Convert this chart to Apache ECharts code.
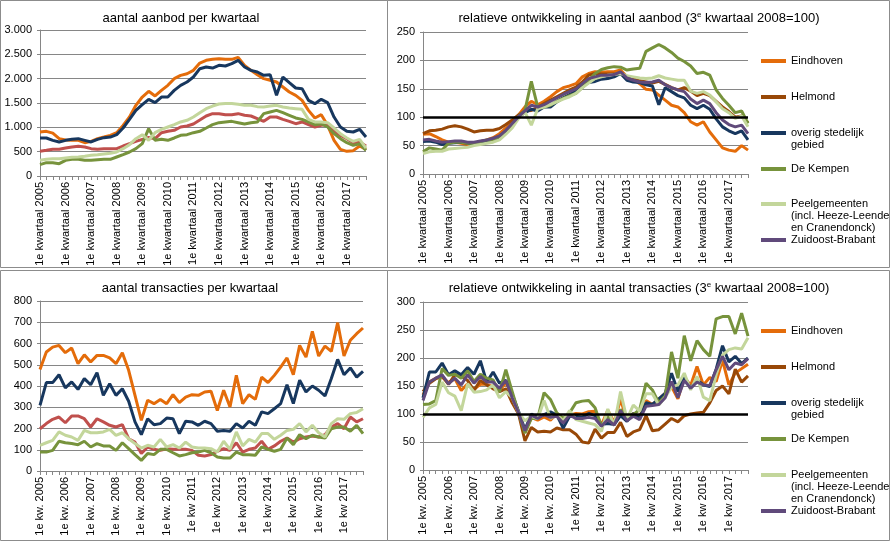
<!DOCTYPE html>
<html><head><meta charset="utf-8">
<script src="https://cdn.jsdelivr.net/npm/echarts@6.0.0/dist/echarts.min.js"></script>
<style>html,body{margin:0;padding:0;background:#fff}#c{width:891px;height:544px}</style>
</head><body><div id="c"></div>
<script>
// ---------- categories ----------
const years = [2005, 2006, 2007, 2008, 2009, 2010, 2011, 2012, 2013, 2014, 2015, 2016, 2017];
const quarterPrefixes = ['1e', '2e', '3e', '4e'];

// ---------- aantal aanbod per kwartaal ----------
const aanbodEindhoven = [904, 918, 880, 767, 740, 733, 733, 685, 712, 767, 800, 835, 890, 1040, 1212, 1452, 1623, 1740, 1644, 1760, 1863, 2000, 2068, 2100, 2171, 2320, 2377, 2397, 2411, 2397, 2397, 2438, 2274, 2171, 2082, 2000, 1966, 1931, 1829, 1726, 1658, 1555, 1349, 1192, 1260, 1041, 733, 548, 507, 521, 616, 548];
const aanbodHelmond = [507, 527, 548, 548, 575, 596, 610, 596, 562, 548, 562, 562, 562, 616, 664, 712, 753, 790, 767, 890, 918, 938, 1007, 1027, 1068, 1150, 1233, 1281, 1281, 1260, 1260, 1281, 1247, 1233, 1178, 1123, 1212, 1212, 1164, 1123, 1075, 1110, 1055, 1007, 1041, 1055, 918, 836, 767, 685, 699, 616];
const aanbodOverig = [781, 781, 733, 699, 733, 753, 767, 733, 699, 753, 788, 800, 850, 986, 1164, 1349, 1466, 1575, 1507, 1623, 1623, 1760, 1863, 1931, 2034, 2205, 2240, 2219, 2274, 2260, 2308, 2377, 2240, 2171, 2137, 2068, 2082, 1658, 2034, 1918, 1808, 1795, 1555, 1486, 1575, 1507, 1212, 1007, 918, 904, 959, 801];
const aanbodKempen = [233, 274, 274, 253, 322, 342, 342, 322, 322, 336, 342, 342, 390, 438, 493, 562, 664, 973, 733, 753, 733, 781, 836, 849, 890, 918, 986, 1055, 1096, 1110, 1123, 1096, 1068, 1096, 1110, 1281, 1315, 1349, 1301, 1247, 1192, 1164, 1110, 1055, 1075, 1007, 870, 767, 685, 630, 664, 527];
const aanbodPeel = [322, 342, 356, 356, 370, 384, 390, 404, 425, 438, 452, 466, 493, 562, 644, 767, 849, 733, 890, 959, 1007, 1055, 1110, 1144, 1212, 1301, 1384, 1438, 1479, 1490, 1490, 1476, 1452, 1452, 1425, 1418, 1438, 1452, 1418, 1397, 1384, 1370, 1164, 1110, 1110, 1096, 986, 870, 781, 712, 753, 575];

// ---------- relatieve ontwikkeling aanbod ----------
const relAanbodEindhoven = [70, 71, 66, 60, 56, 56, 54, 52, 54, 57, 60, 64, 71, 81, 92, 104, 118, 128, 122, 128, 136, 145, 152, 155, 159, 171, 177, 180, 179, 180, 180, 183, 171, 167, 159, 149, 148, 139, 130, 121, 118, 108, 92, 86, 92, 74, 60, 46, 42, 40, 50, 42];
const relAanbodHelmond = [71, 76, 77, 79, 83, 85, 83, 79, 74, 76, 77, 77, 80, 87, 95, 104, 111, 112, 117, 124, 130, 136, 142, 148, 153, 162, 174, 177, 176, 176, 176, 178, 172, 168, 164, 162, 160, 163, 158, 152, 148, 152, 146, 138, 142, 138, 128, 118, 110, 100, 102, 90];
const relAanbodOverig = [57, 58, 56, 52, 54, 55, 56, 54, 52, 55, 57, 58, 63, 73, 86, 101, 108, 114, 111, 118, 118, 127, 134, 140, 146, 155, 161, 163, 167, 168, 171, 177, 165, 162, 161, 157, 155, 122, 152, 145, 138, 134, 121, 115, 121, 114, 97, 83, 76, 71, 76, 60];
const relAanbodKempen = [39, 46, 44, 42, 54, 56, 56, 54, 54, 57, 60, 60, 66, 74, 86, 101, 112, 163, 118, 118, 121, 128, 133, 138, 142, 152, 165, 177, 184, 187, 189, 188, 183, 185, 186, 216, 222, 228, 222, 214, 204, 198, 190, 177, 179, 174, 148, 133, 121, 108, 111, 89];
const relAanbodPeel = [36, 39, 40, 40, 44, 45, 46, 47, 50, 52, 54, 56, 60, 70, 81, 98, 109, 86, 115, 118, 122, 127, 132, 136, 142, 152, 160, 168, 171, 174, 175, 177, 173, 171, 169, 168, 169, 173, 169, 167, 165, 165, 146, 142, 145, 139, 127, 115, 108, 98, 102, 83];
const relAanbodZOB = [60, 61, 58, 56, 57, 58, 58, 56, 56, 58, 60, 63, 67, 77, 89, 101, 111, 121, 118, 122, 128, 134, 140, 145, 150, 159, 168, 171, 174, 174, 175, 180, 169, 165, 162, 161, 162, 165, 157, 152, 148, 145, 132, 124, 130, 124, 108, 95, 87, 83, 86, 71];

// ---------- aantal transacties per kwartaal ----------
const transEindhoven = [478, 560, 583, 591, 557, 579, 505, 547, 513, 544, 544, 532, 505, 557, 474, 356, 238, 333, 317, 337, 317, 359, 322, 348, 359, 356, 372, 375, 285, 380, 301, 450, 317, 359, 337, 442, 416, 450, 489, 532, 453, 591, 536, 657, 541, 588, 563, 698, 541, 615, 646, 673];
const transHelmond = [199, 223, 243, 254, 227, 259, 259, 246, 207, 246, 231, 215, 207, 218, 152, 136, 82, 113, 102, 97, 105, 102, 102, 102, 97, 74, 71, 77, 93, 105, 97, 133, 89, 102, 108, 140, 102, 118, 140, 155, 136, 152, 160, 165, 160, 171, 207, 223, 199, 254, 231, 246];
const transOverig = [309, 416, 416, 453, 391, 419, 384, 435, 406, 463, 356, 411, 356, 387, 328, 231, 171, 246, 218, 223, 249, 246, 176, 234, 231, 215, 234, 223, 187, 191, 187, 223, 202, 234, 215, 278, 270, 293, 317, 406, 317, 427, 372, 400, 380, 353, 435, 525, 453, 485, 442, 469];
const transKempen = [89, 89, 97, 140, 133, 129, 124, 140, 113, 129, 118, 118, 97, 133, 105, 77, 50, 82, 77, 102, 102, 86, 71, 77, 86, 89, 97, 86, 66, 61, 61, 89, 77, 77, 74, 113, 102, 93, 102, 155, 124, 171, 152, 168, 160, 155, 199, 207, 207, 187, 215, 176];
const transPeel = [121, 133, 144, 184, 168, 160, 144, 191, 180, 180, 184, 196, 168, 180, 152, 129, 108, 121, 113, 149, 113, 124, 108, 136, 113, 108, 108, 105, 89, 140, 102, 184, 118, 149, 136, 176, 176, 149, 168, 191, 196, 223, 184, 215, 180, 160, 223, 246, 243, 270, 275, 293];

// ---------- relatieve ontwikkeling transacties ----------
const relTransEindhoven = [134, 157, 164, 166, 156, 163, 142, 154, 144, 153, 153, 149, 142, 156, 133, 100, 67, 94, 89, 95, 89, 101, 90, 98, 101, 100, 104, 105, 80, 107, 85, 126, 89, 101, 95, 124, 117, 126, 137, 149, 127, 166, 151, 185, 152, 165, 158, 196, 152, 173, 181, 189];
const relTransHelmond = [140, 155, 163, 168, 153, 170, 168, 160, 142, 160, 152, 145, 140, 145, 120, 100, 52, 76, 68, 69, 68, 75, 72, 72, 64, 50, 48, 73, 57, 67, 67, 85, 60, 68, 72, 97, 70, 72, 82, 92, 86, 97, 100, 102, 103, 120, 142, 150, 136, 180, 157, 168];
const relTransOverig = [129, 175, 175, 191, 170, 177, 170, 183, 171, 195, 157, 175, 155, 160, 135, 105, 72, 100, 94, 99, 104, 98, 75, 96, 96, 94, 101, 97, 81, 83, 81, 97, 87, 101, 93, 120, 117, 127, 137, 173, 140, 167, 146, 161, 152, 149, 180, 222, 193, 203, 190, 200];
const relTransKempen = [117, 118, 124, 181, 169, 171, 164, 177, 158, 171, 164, 161, 139, 179, 140, 102, 66, 92, 92, 138, 126, 102, 92, 102, 120, 123, 124, 111, 78, 96, 84, 108, 96, 99, 108, 155, 143, 120, 132, 211, 164, 240, 195, 231, 215, 203, 270, 274, 274, 243, 280, 239];
const relTransPeel = [94, 111, 117, 157, 138, 132, 106, 154, 139, 140, 143, 152, 129, 140, 129, 102, 88, 96, 92, 124, 92, 98, 88, 106, 90, 87, 84, 81, 69, 109, 79, 140, 91, 116, 105, 136, 136, 116, 130, 148, 152, 173, 143, 167, 130, 124, 170, 205, 215, 218, 216, 236];
const relTransZOB = [124, 157, 164, 170, 154, 164, 152, 170, 155, 167, 157, 157, 146, 160, 129, 102, 70, 98, 92, 99, 94, 96, 84, 98, 92, 92, 94, 92, 78, 90, 80, 106, 88, 96, 90, 114, 115, 117, 129, 158, 129, 160, 146, 157, 152, 151, 179, 203, 179, 191, 188, 199];

const baseIndex = 100;

// ---------- names / colours ----------
const NAMES = {
  eindhoven: 'Eindhoven',
  helmond: 'Helmond',
  overig: 'overig stedelijk gebied',
  kempen: 'De Kempen',
  peel: 'Peelgemeenten (incl. Heeze-Leende en Cranendonck)',
  zob: 'Zuidoost-Brabant'
};
// legend text, one entry per printed line
const LEGEND_LINES = {
  eindhoven: ['Eindhoven'],
  helmond: ['Helmond'],
  overig: ['overig stedelijk', 'gebied'],
  kempen: ['De Kempen'],
  peel: ['Peelgemeenten', '(incl. Heeze-Leende', 'en Cranendonck)'],
  zob: ['Zuidoost-Brabant']
};
const C = {
  eindhoven: '#E46C0A',
  helmond: '#984807',
  helmondAbs: '#C0504D',
  overig: '#17375E',
  kempen: '#77933C',
  peel: '#C3D69B',
  zob: '#604A7B'
};
const FONT = '"Liberation Sans", Arial, Helvetica, sans-serif';
const GRID_COLOR = '#868686';

const catAanbod = [];
const catTrans = [];
years.forEach(function (y) {
  quarterPrefixes.forEach(function (q) {
    catAanbod.push(q + ' kwartaal ' + y);
    catTrans.push(q + (y <= 2010 ? ' kw. ' : ' kw ') + y);
  });
});

function thousands(v) { return String(v).replace(/\B(?=(\d{3})+(?!\d))/g, '.'); }

const grids = [
  { left: 40, top: 30, width: 326, height: 146 },
  { left: 423, top: 32, width: 325, height: 142 },
  { left: 40, top: 301, width: 323, height: 170 },
  { left: 423, top: 302, width: 325, height: 168 }
].map(function (g) { return Object.assign({ outerBoundsMode: 'none', containLabel: false }, g); });

function xAxis(gi, data) {
  return {
    type: 'category', gridIndex: gi, data: data, boundaryGap: false,
    axisLine: { show: true, lineStyle: { color: GRID_COLOR, width: 1 } },
    axisTick: { show: true, interval: 0, length: 4, lineStyle: { color: GRID_COLOR } },
    axisLabel: { interval: 3, rotate: 90, margin: 6, fontSize: 11, color: '#000', fontFamily: FONT },
    splitLine: { show: false }
  };
}
function yAxis(gi, max, interval, fmt) {
  return {
    type: 'value', gridIndex: gi, min: 0, max: max, interval: interval,
    axisLine: { show: true, lineStyle: { color: GRID_COLOR } },
    axisTick: { show: true, length: 3, lineStyle: { color: GRID_COLOR } },
    axisLabel: { margin: 8, fontSize: 11, color: '#000', fontFamily: FONT, formatter: fmt },
    splitLine: { show: true, lineStyle: { color: GRID_COLOR, width: 1 } }
  };
}
function line(name, data, color, gi, extra) {
  return Object.assign({
    type: 'line', name: name, data: data, xAxisIndex: gi, yAxisIndex: gi,
    symbol: 'none', showSymbol: false, smooth: false,
    lineStyle: { color: color, width: 3 }, itemStyle: { color: color },
    emphasis: { disabled: true }, animation: false
  }, extra || {});
}
function baseLine() {
  return {
    markLine: {
      silent: true, symbol: ['none', 'none'], label: { show: false },
      lineStyle: { color: '#000', width: 2.5, type: 'solid' },
      data: [{ yAxis: baseIndex }], animation: false
    }
  };
}

const series = [
  // relative aanbod (grid 1)
  line(NAMES.eindhoven, relAanbodEindhoven, C.eindhoven, 1),
  line(NAMES.helmond, relAanbodHelmond, C.helmond, 1),
  line(NAMES.overig, relAanbodOverig, C.overig, 1),
  line(NAMES.kempen, relAanbodKempen, C.kempen, 1),
  line(NAMES.peel, relAanbodPeel, C.peel, 1),
  line(NAMES.zob, relAanbodZOB, C.zob, 1, baseLine()),
  // relative transacties (grid 3)
  line(NAMES.eindhoven, relTransEindhoven, C.eindhoven, 3),
  line(NAMES.helmond, relTransHelmond, C.helmond, 3),
  line(NAMES.overig, relTransOverig, C.overig, 3),
  line(NAMES.kempen, relTransKempen, C.kempen, 3),
  line(NAMES.peel, relTransPeel, C.peel, 3),
  line(NAMES.zob, relTransZOB, C.zob, 3, baseLine()),
  // absolute aanbod (grid 0)
  line(NAMES.eindhoven, aanbodEindhoven, C.eindhoven, 0),
  line(NAMES.helmond, aanbodHelmond, C.helmondAbs, 0),
  line(NAMES.overig, aanbodOverig, C.overig, 0),
  line(NAMES.kempen, aanbodKempen, C.kempen, 0),
  line(NAMES.peel, aanbodPeel, C.peel, 0),
  // absolute transacties (grid 2)
  line(NAMES.eindhoven, transEindhoven, C.eindhoven, 2),
  line(NAMES.helmond, transHelmond, C.helmondAbs, 2),
  line(NAMES.overig, transOverig, C.overig, 2),
  line(NAMES.kempen, transKempen, C.kempen, 2),
  line(NAMES.peel, transPeel, C.peel, 2)
];

const legendKeys = ['eindhoven', 'helmond', 'overig', 'kempen', 'peel', 'zob'];
const legendMidsTop = [61, 97, 133, 169, 204, 240];
const legendMidsBottom = [331, 367, 403, 439, 475, 511];
const LH = 12;
const LEG_X = 761;
const LEG_TEXT_X = 791;
function legends(mids) {
  return legendKeys.map(function (k, i) {
    const first = LEGEND_LINES[k][0];
    return {
      left: LEG_X, top: mids[i] - LH / 2, orient: 'vertical', padding: 0, itemGap: 0,
      itemWidth: 25, itemHeight: 4, icon: 'rect', selectedMode: false,
      formatter: function () { return first; },
      textStyle: { fontSize: 11, lineHeight: LH, color: '#000', fontFamily: FONT },
      data: [{ name: NAMES[k], icon: 'rect', itemStyle: { color: C[k] } }]
    };
  });
}
function legendContinuation(mids) {
  const out = [];
  legendKeys.forEach(function (k, i) {
    LEGEND_LINES[k].slice(1).forEach(function (txt, j) {
      out.push({
        type: 'text', silent: true, x: LEG_TEXT_X, y: mids[i] + (j + 1) * LH,
        style: { text: txt, fontSize: 11, fontFamily: FONT, fill: '#000', verticalAlign: 'middle', align: 'left' }
      });
    });
  });
  return out;
}

const titleStyle = {
  fontSize: 13, fontWeight: 'normal', color: '#000', fontFamily: FONT, lineHeight: 15,
  rich: { sup: { fontSize: 8, verticalAlign: 'top', lineHeight: 15, color: '#000', fontFamily: FONT } }
};
const titles = [
  { text: 'aantal aanbod per kwartaal', left: 181, top: 11 },
  { text: 'relatieve ontwikkeling in aantal aanbod (3{sup|e} kwartaal 2008=100)', left: 639, top: 11 },
  { text: 'aantal transacties per kwartaal', left: 190, top: 281 },
  { text: 'relatieve ontwikkeling in aantal transacties (3{sup|e} kwartaal 2008=100)', left: 639, top: 281 }
].map(function (t) { return Object.assign({ textAlign: 'center', padding: 0, textStyle: titleStyle }, t); });

const border = { fill: 'none', stroke: '#8c8c8c', lineWidth: 1 };
const option = {
  backgroundColor: '#fff',
  animation: false,
  textStyle: { fontFamily: FONT },
  title: titles,
  grid: grids,
  xAxis: [xAxis(0, catAanbod), xAxis(1, catAanbod), xAxis(2, catTrans), xAxis(3, catTrans)],
  yAxis: [yAxis(0, 3000, 500, thousands), yAxis(1, 250, 50), yAxis(2, 800, 100), yAxis(3, 300, 50)],
  legend: legends(legendMidsTop).concat(legends(legendMidsBottom)),
  series: series,
  graphic: [
    { type: 'rect', silent: true, shape: { x: 0.5, y: 0.5, width: 387, height: 267 }, style: border },
    { type: 'rect', silent: true, shape: { x: 387.5, y: 0.5, width: 502, height: 267 }, style: border },
    { type: 'rect', silent: true, shape: { x: 0.5, y: 270.5, width: 387, height: 270 }, style: border },
    { type: 'rect', silent: true, shape: { x: 387.5, y: 270.5, width: 502, height: 270 }, style: border }
  ].concat(legendContinuation(legendMidsTop), legendContinuation(legendMidsBottom))
};
const chart = echarts.init(document.getElementById('c'), null, { renderer: 'canvas' });
chart.setOption(option);
</script>
</body></html>
